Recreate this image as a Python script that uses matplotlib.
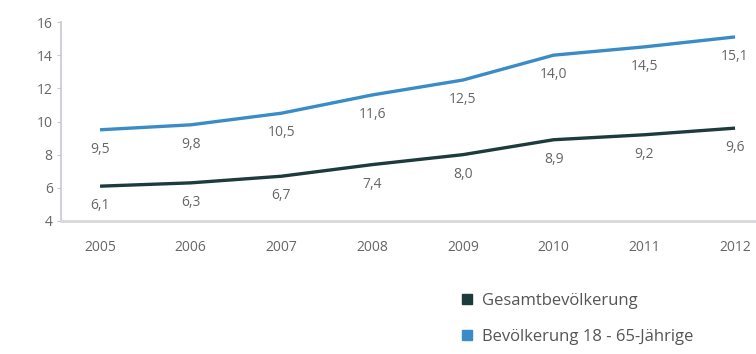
import matplotlib
matplotlib.use("Agg")
import matplotlib.pyplot as plt
from matplotlib.lines import Line2D

years = [2005, 2006, 2007, 2008, 2009, 2010, 2011, 2012]
gesamt = [6.1, 6.3, 6.7, 7.4, 8.0, 8.9, 9.2, 9.6]
jaehrige = [9.5, 9.8, 10.5, 11.6, 12.5, 14.0, 14.5, 15.1]
series_names = ["Gesamtbevölkerung", "Bevölkerung 18 - 65-Jährige"]
yticks = [4, 6, 8, 10, 12, 14, 16]

dark = "#1d3a3c"
blue = "#3a8cc6"
grey = "#666666"

plt.rcParams['font.family'] = ['Open Sans', 'DejaVu Sans']

fig = plt.figure(figsize=(7.56, 3.54), dpi=100)
ax = fig.add_axes([61/756, 1-221/354, (755-61)/756, (221-22)/354])

ax.plot(years, gesamt, color=dark, lw=2.4, solid_capstyle='butt')
ax.plot(years, jaehrige, color=blue, lw=2.4, solid_capstyle='butt')

def fmt(v):
    return f"{v:.1f}".replace(".", ",")

for x, v in zip(years, gesamt):
    ax.annotate(fmt(v), (x, v), xytext=(0, -14), textcoords='offset points',
                ha='center', va='center', fontsize=10, color=grey)
for x, v in zip(years, jaehrige):
    ax.annotate(fmt(v), (x, v), xytext=(0, -14), textcoords='offset points',
                ha='center', va='center', fontsize=10, color=grey)

ax.set_xlim(2004.57, 2012.22)
ax.set_ylim(4, 16)
ax.set_yticks(yticks)
ax.set_yticklabels([str(t) for t in yticks])
ax.set_xticks(years)
ax.set_xticklabels([str(y) for y in years])

for s in ['top', 'right']:
    ax.spines[s].set_visible(False)
ax.spines['left'].set_color("#c8c8d0")
ax.spines['bottom'].set_color("#d8d8dc")
ax.spines['left'].set_linewidth(1.2)
ax.spines['bottom'].set_linewidth(2)
ax.tick_params(axis='y', length=3, color="#c8c8d0", labelsize=10, labelcolor=grey, pad=3)
ax.tick_params(axis='x', length=0, labelsize=10, labelcolor=grey, pad=14)

handles = [Line2D([], [], ls='none', marker='s', markersize=7, color=c) for c in (dark, blue)]
fig.legend(handles, series_names, loc='upper left', bbox_to_anchor=(452/756, 1-286/354),
           frameon=False, fontsize=12, labelcolor="#555555", handletextpad=0.4,
           labelspacing=1.2, handlelength=1.0, borderaxespad=0)

fig.savefig("out.png", dpi=100)
